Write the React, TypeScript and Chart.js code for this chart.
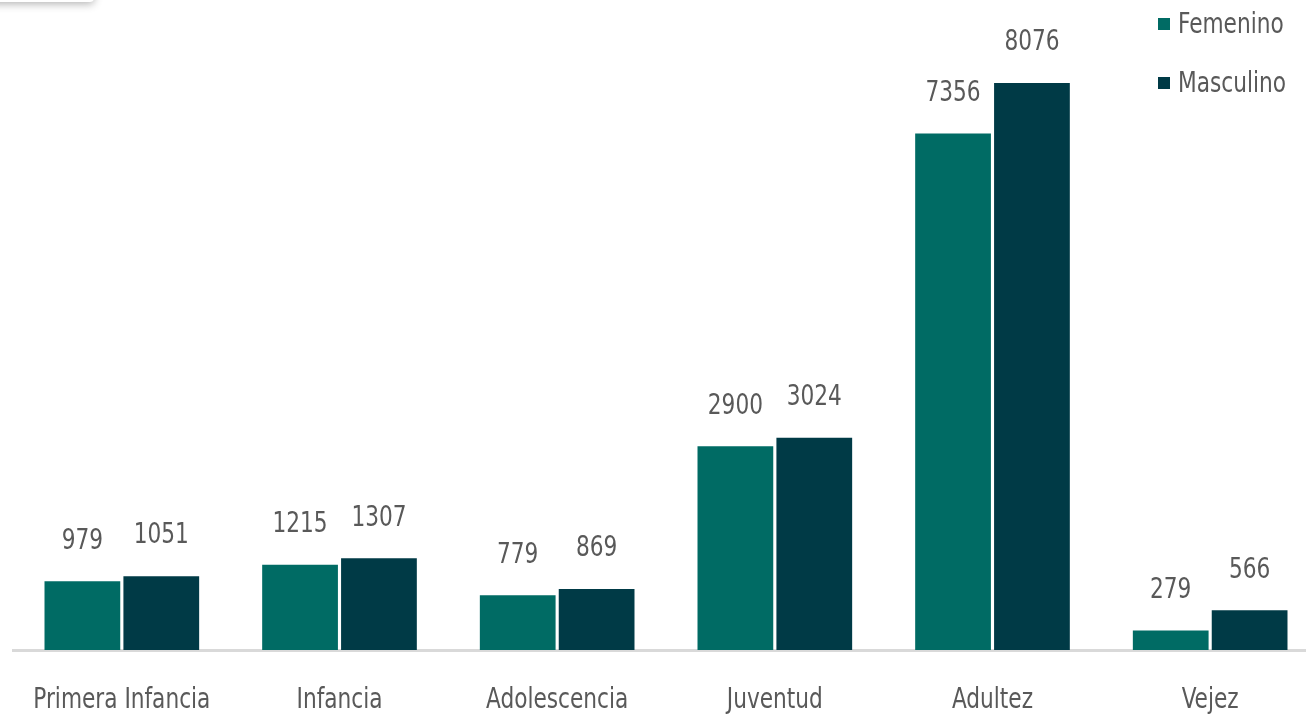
import React, { useEffect, useRef } from "react";
import { Chart, registerables } from "chart.js";

Chart.register(...registerables);

const categories = ["Primera Infancia", "Infancia", "Adolescencia", "Juventud", "Adultez", "Vejez"];
const femenino = [979, 1215, 779, 2900, 7356, 279];
const masculino = [1051, 1307, 869, 3024, 8076, 566];
const seriesNames = ["Femenino", "Masculino"];
const seriesColors = ["#006B64", "#003A46"];

const FONT = "'DejaVu Sans Condensed', 'Liberation Sans Narrow', sans-serif";
const TEXT = "#595959";
const SX = 0.86;

function drawText(ctx: any, text: string, x: number, y: number) {
  ctx.save();
  ctx.translate(x, y);
  ctx.scale(SX, 1);
  ctx.fillText(text, 0, 0);
  ctx.restore();
}

const labelPlugin = {
  id: "barLabels",
  afterDatasetsDraw(chart: any) {
    const ctx = chart.ctx;
    ctx.save();
    ctx.font = `28px ${FONT}`;
    ctx.fillStyle = TEXT;
    ctx.textAlign = "center";
    ctx.textBaseline = "bottom";
    chart.data.datasets.forEach((ds: any, i: number) => {
      const meta = chart.getDatasetMeta(i);
      meta.data.forEach((bar: any, j: number) => {
        drawText(ctx, String(ds.data[j]), bar.x, bar.y - 26);
      });
    });
    // category labels
    const xs = chart.scales.x;
    ctx.textBaseline = "alphabetic";
    chart.data.labels.forEach((lab: string, i: number) => {
      drawText(ctx, lab, xs.getPixelForValue(i), 708);
    });
    ctx.restore();
  },
};

export default function App() {
  const ref = useRef<HTMLCanvasElement>(null);
  useEffect(() => {
    if (!ref.current) return;
    const chart = new Chart(ref.current, {
      type: "bar",
      data: {
        labels: categories,
        datasets: [
          { label: seriesNames[0], data: femenino, backgroundColor: seriesColors[0] },
          { label: seriesNames[1], data: masculino, backgroundColor: seriesColors[1] },
        ],
      },
      options: {
        animation: false,
        responsive: false,
        maintainAspectRatio: false,
        datasets: { bar: { categoryPercentage: 0.725, barPercentage: 0.96 } } as any,
        layout: { padding: { left: 13, right: 1, top: 18, bottom: 56 } },
        plugins: { legend: { display: false }, tooltip: { enabled: false } },
        scales: {
          y: { display: false, min: 0, max: 9000 },
          x: {
            grid: { display: false },
            border: { display: true, color: "#D9D9D9", width: 3 },
            ticks: { display: false },
          },
        },
      },
      plugins: [labelPlugin],
    });
    return () => chart.destroy();
  }, []);

  const legendItem = (name: string, color: string, top: number) => (
    <div key={name} style={{ position: "absolute", left: 1158, top, display: "flex", alignItems: "center" }}>
      <div style={{ width: 12, height: 12, background: color, marginRight: 8 }} />
      <span style={{ font: `28px ${FONT}`, color: TEXT, lineHeight: "32px", display: "inline-block", transform: `scaleX(${SX})`, transformOrigin: "left center" }}>{name}</span>
    </div>
  );

  return (
    <div style={{ position: "fixed", left: 0, top: 0, width: 1306, height: 714, overflow: "hidden", background: "#fff" }}>
      <div style={{ position: "absolute", left: -20, top: -20, width: 114, height: 22, background: "#fff", boxShadow: "0 2px 9px rgba(0,0,0,0.3)", borderRadius: 4 }} />
      <canvas ref={ref} width={1320} height={714} style={{ position: "absolute", left: 0, top: 0, width: 1320, height: 714 }} />
      {legendItem(seriesNames[0], seriesColors[0], 8)}
      {legendItem(seriesNames[1], seriesColors[1], 67)}
    </div>
  );
}
